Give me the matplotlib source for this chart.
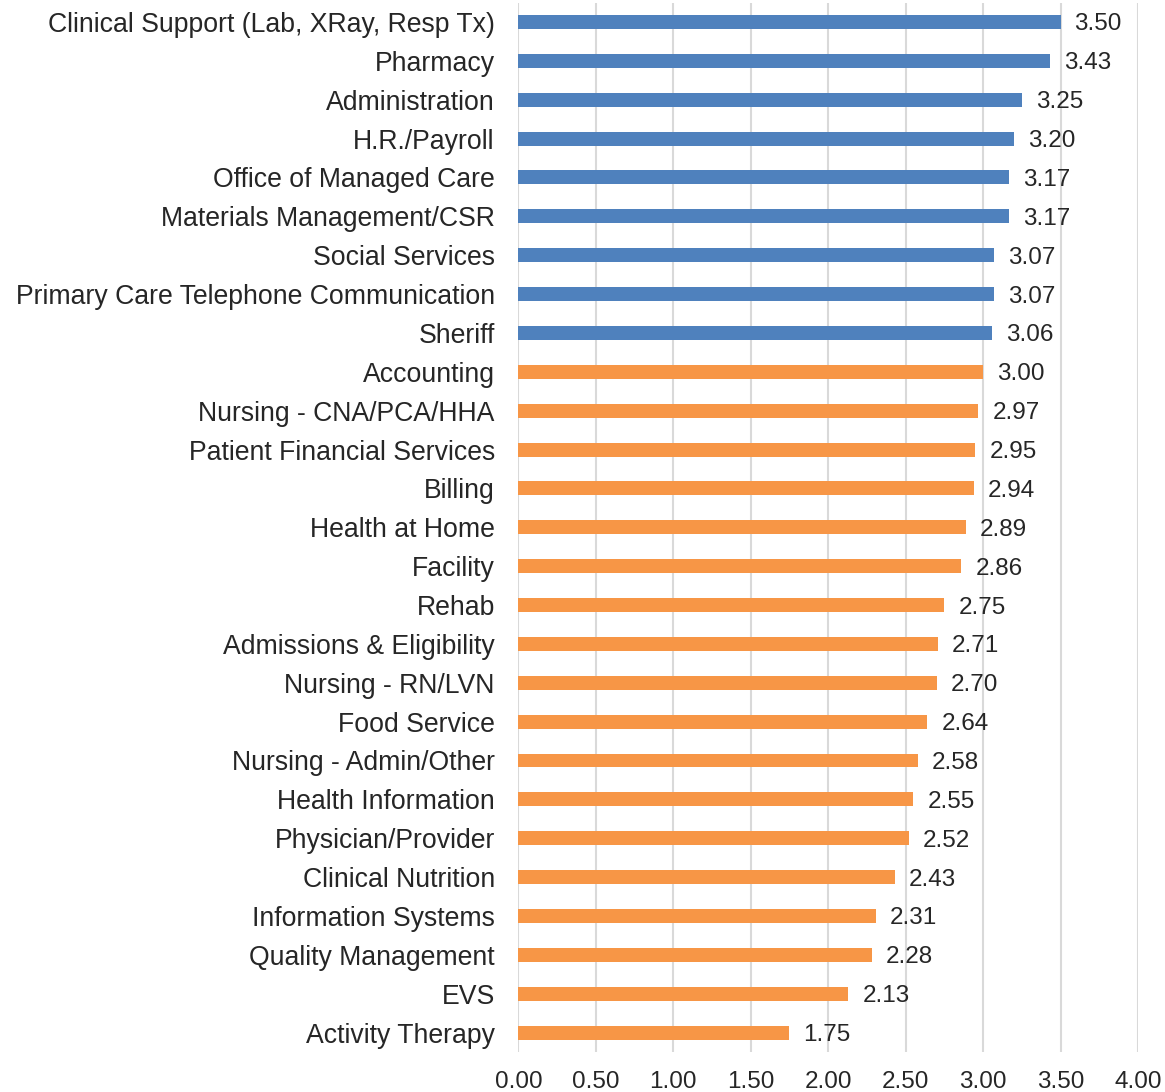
import matplotlib
matplotlib.use("Agg")
import matplotlib.pyplot as plt

categories = [
    "Clinical Support (Lab, XRay, Resp Tx)", "Pharmacy", "Administration",
    "H.R./Payroll", "Office of Managed Care", "Materials Management/CSR",
    "Social Services", "Primary Care Telephone Communication", "Sheriff",
    "Accounting", "Nursing - CNA/PCA/HHA", "Patient Financial Services",
    "Billing", "Health at Home", "Facility", "Rehab",
    "Admissions & Eligibility", "Nursing - RN/LVN", "Food Service",
    "Nursing - Admin/Other", "Health Information", "Physician/Provider",
    "Clinical Nutrition", "Information Systems", "Quality Management",
    "EVS", "Activity Therapy",
]
scores = [
    3.50, 3.43, 3.25, 3.20, 3.17, 3.17, 3.07, 3.07, 3.06,
    3.00, 2.97, 2.95, 2.94, 2.89, 2.86, 2.75, 2.71, 2.70, 2.64,
    2.58, 2.55, 2.52, 2.43, 2.31, 2.28, 2.13, 1.75,
]
groups = ["above"] * 9 + ["below"] * 18
x_ticks = [0.0, 0.5, 1.0, 1.5, 2.0, 2.5, 3.0, 3.5, 4.0]

group_colors = {"above": "#4F81BD", "below": "#F79646"}
text_color = "#262626"

plt.rcParams["font.family"] = ["Liberation Sans", "DejaVu Sans"]

fig = plt.figure(figsize=(11.65, 10.92), dpi=100)
ax = fig.add_axes([0.445, 0.0366, 0.9768 - 0.445, 0.9977 - 0.0366])

ypos = list(range(len(categories)))
colors = [group_colors[g] for g in groups]
ax.barh(ypos, scores, height=0.36, color=colors, zorder=3)

for y, v in zip(ypos, scores):
    ax.text(v + 0.09, y, f"{v:.2f}", va="center_baseline", ha="left",
            fontsize=17.5, color=text_color, zorder=4)

ax.set_ylim(len(categories) - 0.5, -0.5)
ax.set_xlim(0, 4.0)
ax.set_yticks(ypos)
ax.set_yticklabels(categories, fontsize=19.2, color=text_color,
                   va="center_baseline")
ax.set_xticks(x_ticks)
ax.set_xticklabels([f"{t:.2f}" for t in x_ticks], fontsize=17.5, color=text_color)

ax.xaxis.grid(True, color="#D9D9D9", linewidth=1.5, zorder=0)
ax.tick_params(axis="both", length=0)
ax.tick_params(axis="y", pad=17)
ax.tick_params(axis="x", pad=14)
for s in ax.spines.values():
    s.set_visible(False)

fig.savefig("out.png", dpi=100)
